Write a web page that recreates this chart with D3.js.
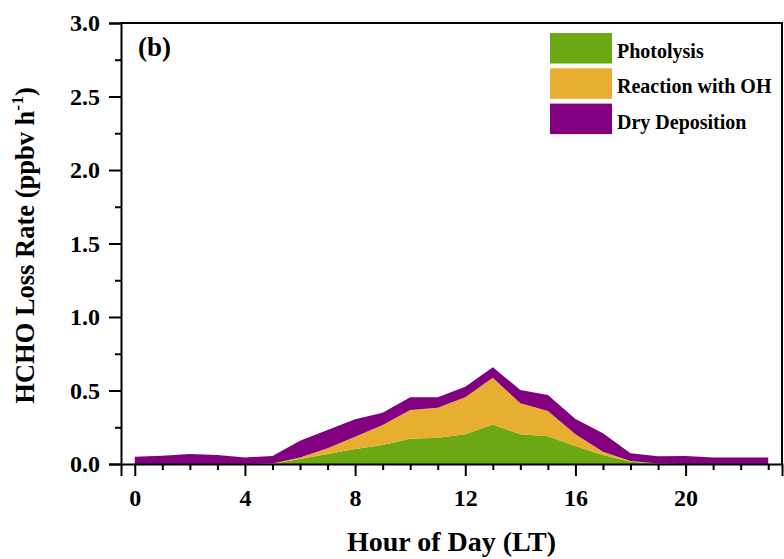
<!DOCTYPE html>
<html>
<head>
<meta charset="utf-8">
<script src="https://cdn.jsdelivr.net/npm/d3@7"></script>
<style>
  html, body { margin: 0; padding: 0; background: #fff; }
  svg { display: block; font-family: "Liberation Serif", "Times New Roman", serif; font-weight: bold; }
</style>
</head>
<body>
<div id="chart"></div>
<script>
// hourly HCHO loss rates (ppbv h-1)
const hours = d3.range(0, 24);
const photolysis = [0, 0, 0, 0, 0, 0.002, 0.034, 0.068, 0.102, 0.129, 0.172, 0.179,
  0.202, 0.268, 0.202, 0.188, 0.122, 0.061, 0.016, 0.003, 0, 0, 0, 0];
const reactionOH = [0, 0, 0, 0, 0, 0.002, 0.011, 0.039, 0.084, 0.136, 0.195, 0.204,
  0.252, 0.319, 0.211, 0.173, 0.080, 0.023, 0.004, 0.001, 0, 0, 0, 0];
const dryDeposition = [0.050, 0.056, 0.068, 0.061, 0.045, 0.050, 0.114, 0.124, 0.118, 0.084, 0.087, 0.071,
  0.072, 0.071, 0.090, 0.108, 0.104, 0.125, 0.053, 0.049, 0.054, 0.045, 0.045, 0.045];

const seriesNames = ["Photolysis", "Reaction with OH", "Dry Deposition"];
const colors = ["#6ba813", "#e7ae30", "#820080"];
const xTicks = [0, 4, 8, 12, 16, 20];
const yTicks = [0, 0.5, 1.0, 1.5, 2.0, 2.5, 3.0];

const width = 784, height = 559;
const margin = { top: 23, right: 2, bottom: 95, left: 121 };

const rows = hours.map((h, i) => ({
  hour: h,
  "Photolysis": photolysis[i],
  "Reaction with OH": reactionOH[i],
  "Dry Deposition": dryDeposition[i],
}));

const stacked = d3.stack().keys(seriesNames)(rows);

const x = d3.scaleLinear().domain([-0.5, 23.5]).range([margin.left, width - margin.right]);
const y = d3.scaleLinear().domain([0, 3]).range([height - margin.bottom, margin.top]);

const svg = d3.select("#chart").append("svg")
  .attr("width", width)
  .attr("height", height);

const area = d3.area()
  .x((d) => x(d.data.hour))
  .y0((d) => y(d[0]))
  .y1((d) => y(d[1]));

svg.append("g")
  .selectAll("path")
  .data(stacked)
  .join("path")
  .attr("fill", (d, i) => colors[i])
  .attr("d", area);

// axes, major and minor ticks drawn separately
svg.append("g")
  .attr("transform", `translate(0,${y(0)})`)
  .call(d3.axisBottom(x).tickValues(xTicks).tickFormat(d3.format("d")).tickSize(12).tickPadding(13));
svg.append("g")
  .attr("transform", `translate(0,${y(0)})`)
  .call(d3.axisBottom(x).tickValues(hours.filter((h) => h % 4 !== 0)).tickFormat("").tickSize(6))
  .call((g) => g.select(".domain").remove());

svg.append("g")
  .attr("transform", `translate(${x(-0.5)},0)`)
  .call(d3.axisLeft(y).tickValues(yTicks).tickFormat(d3.format(".1f")).tickSize(12).tickPadding(9));
svg.append("g")
  .attr("transform", `translate(${x(-0.5)},0)`)
  .call(d3.axisLeft(y).tickValues(d3.range(0.25, 3, 0.5)).tickFormat("").tickSize(6))
  .call((g) => g.select(".domain").remove());

svg.selectAll(".tick line").attr("stroke", "#000").attr("stroke-width", 2);
svg.selectAll(".domain").attr("stroke", "#000").attr("stroke-width", 2);
svg.selectAll(".tick text")
  .attr("font-family", "Liberation Serif, serif")
  .attr("font-weight", "bold")
  .attr("font-size", 24)
  .attr("fill", "#000");

// frame top and right
svg.append("path")
  .attr("fill", "none")
  .attr("stroke", "#000")
  .attr("stroke-width", 2)
  .attr("d", `M${x(-0.5)},${y(3)}H${x(23.5)}V${y(0)}`);

// axis titles
svg.append("text")
  .attr("x", (x(-0.5) + x(23.5)) / 2)
  .attr("y", 551)
  .attr("text-anchor", "middle")
  .attr("font-size", 28)
  .text("Hour of Day (LT)");

const yTitle = svg.append("text")
  .attr("transform", `translate(34,${(y(0) + y(3)) / 2 + 2}) rotate(-90)`)
  .attr("text-anchor", "middle")
  .attr("font-size", 26.5);
yTitle.append("tspan").text("HCHO Loss Rate (ppbv h");
yTitle.append("tspan").attr("font-size", 17.5).attr("dy", -11).text("-1");
yTitle.append("tspan").attr("dy", 11).text(")");

svg.append("text")
  .attr("x", 138)
  .attr("y", 56)
  .attr("font-size", 27)
  .text("(b)");

// legend
const legend = svg.append("g")
  .selectAll("g")
  .data(seriesNames)
  .join("g")
  .attr("transform", (d, i) => `translate(550,${33 + i * 35.3})`);
legend.append("rect")
  .attr("width", 62)
  .attr("height", 30.5)
  .attr("fill", (d, i) => colors[i]);
legend.append("text")
  .attr("x", 67)
  .attr("y", 25)
  .attr("font-size", 20)
  .text((d) => d);
</script>
</body>
</html>
